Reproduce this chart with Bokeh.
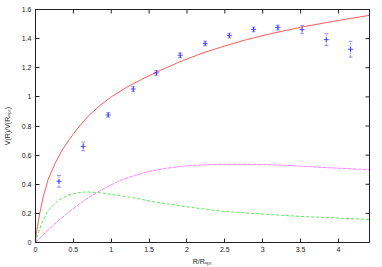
import numpy as np
from bokeh.plotting import figure
from bokeh.models import Range1d, Whisker, TeeHead, ColumnDataSource, FixedTicker
from bokeh.embed import file_html
from bokeh.resources import INLINE

# observed rotation curve points (normalised)
obs_r = [0.31, 0.63, 0.96, 1.29, 1.595, 1.91, 2.24, 2.56, 2.88, 3.20, 3.52, 3.84, 4.16]
obs_v = [0.42, 0.66, 0.876, 1.054, 1.165, 1.286, 1.367, 1.421, 1.463, 1.476, 1.462, 1.393, 1.327]
obs_err = [0.04, 0.03, 0.015, 0.018, 0.016, 0.016, 0.016, 0.016, 0.016, 0.016, 0.028, 0.041, 0.054]

# total model curve (red)
red_r = [0, 0.005, 0.015, 0.037, 0.06, 0.1, 0.168, 0.256, 0.34, 0.45, 0.55, 0.7, 0.85, 1.0, 1.2,
         1.4, 1.6, 1.9, 2.2, 2.5, 2.8, 3.1, 3.5, 4.0, 4.41]
red_v = [0, 0.035, 0.075, 0.145, 0.21, 0.31, 0.435, 0.54, 0.625, 0.71, 0.78, 0.87, 0.94, 1.0,
         1.065, 1.12, 1.17, 1.24, 1.30, 1.35, 1.395, 1.433, 1.478, 1.525, 1.56]

# disk component (green)
green_r = [0, 0.015, 0.08, 0.168, 0.3, 0.43, 0.55, 0.65, 0.75, 0.87, 1.087, 1.306, 1.57, 2.0,
           2.45, 3.0, 3.5, 4.0, 4.41]
green_v = [0, 0.03, 0.131, 0.222, 0.29, 0.324, 0.34, 0.347, 0.346, 0.34, 0.324, 0.306, 0.279,
           0.245, 0.215, 0.195, 0.179, 0.168, 0.158]

# halo component (magenta)
mag_r = [0, 0.125, 0.256, 0.43, 0.606, 0.75, 0.955, 1.135, 1.306, 1.5, 1.7, 2.0, 2.36, 2.75,
         3.1, 3.45, 3.85, 4.41]
mag_v = [0, 0.065, 0.13, 0.205, 0.275, 0.325, 0.385, 0.43, 0.46, 0.488, 0.508, 0.527, 0.536,
         0.537, 0.534, 0.526, 0.514, 0.5]

x_ticks = [0, 0.5, 1, 1.5, 2, 2.5, 3, 3.5, 4]
x_tick_labels = ["0", "0.5", "1", "1.5", "2", "2.5", "3", "3.5", "4"]
y_ticks = [0, 0.2, 0.4, 0.6, 0.8, 1.0, 1.2, 1.4, 1.6]
y_tick_labels = ["0", "0.2", "0.4", "0.6", "0.8", "1", "1.2", "1.4", "1.6"]
x_max = 4.41
y_max = 1.6

FONT = "Liberation Sans"
AX = "#222222"

p = figure(width=382, height=267, output_backend="svg", toolbar_location=None,
           x_range=Range1d(0, x_max), y_range=Range1d(0, y_max),
           min_border_left=34, min_border_right=13, min_border_top=9, min_border_bottom=23)
p.xgrid.visible = False
p.ygrid.visible = False
p.outline_line_color = AX
p.outline_line_width = 1
p.background_fill_color = "white"
p.border_fill_color = "white"


def style_axis(ax, ticks, labels):
    ax.ticker = FixedTicker(ticks=ticks)
    ax.major_label_overrides = {t: l for t, l in zip(ticks, labels)}
    ax.major_tick_in = 4
    ax.major_tick_out = 0
    ax.minor_tick_in = 0
    ax.minor_tick_out = 0
    ax.major_tick_line_color = AX
    ax.axis_line_color = AX
    ax.major_label_text_font = FONT
    ax.major_label_text_font_size = "7px"
    ax.major_label_text_color = AX
    ax.major_label_standoff = 4
    ax.axis_label_text_font = FONT
    ax.axis_label_text_font_size = "7px"
    ax.axis_label_text_font_style = "normal"
    ax.axis_label_text_color = AX


style_axis(p.xaxis[0], x_ticks, x_tick_labels)
style_axis(p.yaxis[0], y_ticks, y_tick_labels)
p.xaxis[0].axis_label = "R/Rₒₚₜ"
p.xaxis[0].axis_label_standoff = 3
p.yaxis[0].axis_label = "V(R)/V(Rₒₚₜ)"
p.yaxis[0].axis_label_standoff = 8

# mirrored inward ticks on the top and right frame edges
p.scatter(x_ticks, [y_max] * len(x_ticks), marker="dash", size=8, angle=np.pi / 2,
          line_color=AX, line_width=1)
p.scatter([x_max] * len(y_ticks), y_ticks, marker="dash", size=8,
          line_color=AX, line_width=1)

# model curves
p.line(red_r, red_v, line_color="#ff0000", line_width=1, line_alpha=0.65)
p.line(green_r, green_v, line_color="#00dd00", line_width=1, line_alpha=0.65, line_dash="3 2")
p.line(mag_r, mag_v, line_color="#ff00ff", line_width=1, line_alpha=0.5, line_dash="4 1")

# data with error bars
obs_v_a = np.array(obs_v)
obs_err_a = np.array(obs_err)
src = ColumnDataSource(dict(x=obs_r, y=obs_v, upper=obs_v_a + obs_err_a, lower=obs_v_a - obs_err_a))
wh = Whisker(source=src, base="x", upper="upper", lower="lower",
             line_color="#4444ff", line_alpha=0.55, line_width=1, line_dash="2 1",
             upper_head=TeeHead(size=4, line_color="#4444ff", line_alpha=0.55),
             lower_head=TeeHead(size=4, line_color="#4444ff", line_alpha=0.55))
p.add_layout(wh)
p.scatter("x", "y", source=src, marker="cross", size=5, line_color="#2222ff",
          line_alpha=0.8, line_width=1)

open("out.html", "w").write(file_html(p, INLINE))
